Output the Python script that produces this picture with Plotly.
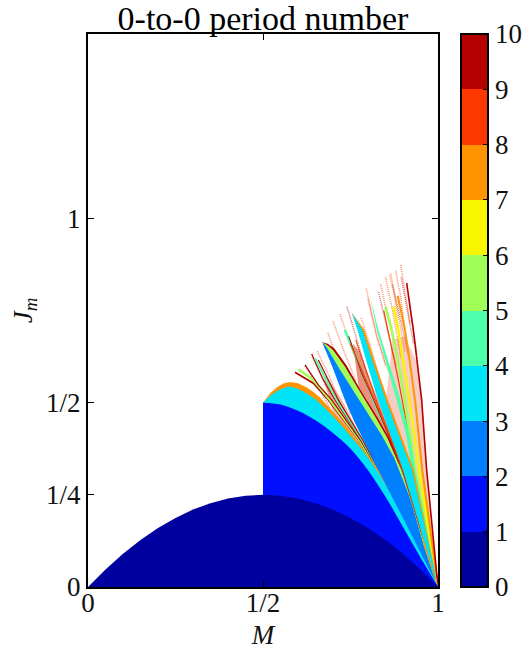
import plotly.graph_objects as go

FONT = "Liberation Serif"

# colour levels (0..9) of the discrete jet scale
level_colors = ["#00009f", "#0010ff", "#0080ff", "#00e4f8", "#4dffaa",
                "#a0ff56", "#f8f500", "#ff9400", "#ff3800", "#b40000"]
cbar_ticks = list(range(11))

x_tickvals = [0, 0.5, 1]
x_ticktext = ["0", "1/2", "1"]
y_tickvals = [0, 0.25, 0.5, 1]
y_ticktext = ["0", "1/4", "1/2", "1"]

# filled regions: M outline, J outline
orange_m = [0.5, 0.52, 0.539, 0.558, 0.577, 0.60, 0.625, 0.645, 0.665, 0.70, 0.735, 0.762, 0.79, 0.83, 0.873, 0.916, 0.958, 1]
orange_j = [0.5, 0.525, 0.541, 0.552, 0.556, 0.553, 0.541, 0.528, 0.512, 0.476, 0.438, 0.405, 0.37, 0.3175, 0.25, 0.182, 0.11, 0]

cyan_m = [0.5, 0.52, 0.539, 0.558, 0.577, 0.60, 0.625, 0.653, 0.691, 0.726, 0.754, 0.783, 0.825, 0.868, 0.911, 0.955, 1]
cyan_j = [0.5, 0.518, 0.531, 0.54, 0.5436, 0.538, 0.525, 0.5074, 0.472, 0.437, 0.405, 0.3727, 0.3175, 0.25, 0.182, 0.11, 0]

blue_rect_m = [0.5, 0.5, 0.6, 0.8, 1]
blue_rect_j = [0, 0.5, 0.47, 0.3, 0]
blue_m = [0.5, 0.55, 0.6, 0.65, 0.7, 0.75, 0.8, 0.85, 0.9, 0.95, 1]
blue_j = [0.5, 0.495, 0.478, 0.452, 0.418, 0.375, 0.317, 0.245, 0.163, 0.08, 0]

dark_m = [0, 0.05, 0.1, 0.15, 0.2, 0.25, 0.3, 0.35, 0.4, 0.45, 0.5, 0.55, 0.6, 0.65, 0.7, 0.75, 0.8, 0.85, 0.9, 0.95, 1]
dark_j = [0, 0.0475, 0.09, 0.1275, 0.16, 0.1875, 0.21, 0.2275, 0.24, 0.2475, 0.25, 0.2475, 0.24, 0.2275, 0.21, 0.1875, 0.16, 0.1275, 0.09, 0.0475, 0]

wedge_red_m = [0.6696, 0.685, 0.704, 0.738, 0.773, 0.797, 0.827, 0.86, 0.899, 0.938, 0.969, 1, 0.9, 0.8]
wedge_red_j = [0.664, 0.66, 0.647, 0.602, 0.5436, 0.5075, 0.46, 0.405, 0.3175, 0.2, 0.11, 0, 0.2, 0.42]
wedge_green_m = [0.6696, 0.685, 0.70, 0.734, 0.768, 0.792, 0.822, 0.855, 0.895, 0.935, 0.966, 1, 0.9, 0.8]
wedge_green_j = [0.664, 0.655, 0.643, 0.598, 0.5436, 0.5075, 0.46, 0.405, 0.3175, 0.2, 0.11, 0, 0.2, 0.42]
wedge_m = [0.6696, 0.697, 0.733, 0.76, 0.801, 0.829, 0.893, 0.941, 1, 0.96, 0.9265, 0.9, 0.875, 0.84, 0.806, 0.775, 0.755, 0.72, 0.681]
wedge_j = [0.664, 0.60, 0.51, 0.45, 0.372, 0.3175, 0.2, 0.11, 0, 0.11, 0.225, 0.29, 0.35, 0.41, 0.4613, 0.5075, 0.535, 0.589, 0.652]

cyan2_m = [0.7534, 0.77, 0.797, 0.8285, 0.862, 0.9, 0.937, 0.966, 1, 0.975, 0.953, 0.926, 0.886, 0.851, 0.815, 0.784]
cyan2_j = [0.7444, 0.697, 0.607, 0.5074, 0.418, 0.3175, 0.2, 0.11, 0, 0.11, 0.2, 0.3175, 0.418, 0.5074, 0.607, 0.697]

edge2_m = [0.7534, 0.79, 0.821, 0.857, 0.892, 0.931, 0.957, 0.977, 1, 0.96, 0.92, 0.88, 0.84, 0.80, 0.77]
edge2_j = [0.7444, 0.6974, 0.607, 0.5074, 0.418, 0.3175, 0.2, 0.11, 0, 0.11, 0.3175, 0.40, 0.5074, 0.607, 0.70]

wide_green_m = [0.8058, 0.825, 0.852, 0.882, 0.908, 0.925, 1, 0.935, 0.918, 0.893, 0.861, 0.83]
wide_green_j = [0.7879, 0.6974, 0.607, 0.5074, 0.418, 0.3175, 0, 0.3175, 0.418, 0.5074, 0.607, 0.6974]

# pale speckled haze between stripes
haze1_m = [0.757, 0.775, 0.8285, 0.862, 0.9, 1, 0.899, 0.822, 0.797, 0.773]
haze1_j = [0.66, 0.64, 0.5074, 0.418, 0.3175, 0, 0.3175, 0.46, 0.5075, 0.5436]
haze2_m = [0.87, 0.905, 0.9409, 0.9533, 0.9676, 1, 0.93, 0.891, 0.8514]
haze2_j = [0.67, 0.68, 0.607, 0.5074, 0.3175, 0, 0.3175, 0.418, 0.5074]
haze3_m = [0.67, 0.69, 0.73, 0.80, 1, 0.79, 0.74, 0.70]
haze3_j = [0.58, 0.56, 0.50, 0.37, 0, 0.36, 0.42, 0.475]

# thin stripes left of the blue wedge: level, line width, M and J along the stripe
left_levels = [9, 5, 9, 9, 4, 9]
left_widths = [1.6, 2.6, 1.2, 1.2, 2.0, 1.2]
left_m = [
    [0.5914, 0.6438, 0.6867, 0.772, 0.826, 0.885, 0.935, 1],
    [0.6009, 0.6438, 0.6914, 0.775, 0.827, 0.886, 0.936, 1],
    [0.62, 0.6581, 0.6962, 0.777, 0.828, 0.886, 0.936, 1],
    [0.639, 0.6723, 0.7057, 0.78, 0.829, 0.887, 0.937, 1],
    [0.6486, 0.6819, 0.7105, 0.782, 0.83, 0.887, 0.937, 1],
    [0.6581, 0.6867, 0.7152, 0.784, 0.831, 0.888, 0.938, 1],
]
left_j = [
    [0.5825, 0.5527, 0.5074, 0.40, 0.3175, 0.2, 0.11, 0],
    [0.5907, 0.5617, 0.5074, 0.40, 0.3175, 0.2, 0.11, 0],
    [0.6024, 0.5481, 0.5074, 0.40, 0.3175, 0.2, 0.11, 0],
    [0.6323, 0.5617, 0.5074, 0.40, 0.3175, 0.2, 0.11, 0],
    [0.6205, 0.5617, 0.5074, 0.40, 0.3175, 0.2, 0.11, 0],
    [0.616, 0.5617, 0.5074, 0.40, 0.3175, 0.2, 0.11, 0],
]

# stripes right of the blue wedge
right_levels = [4, 9, 8, 8, 8, 5, 6, 7, 9]
right_widths = [2.4, 1.0, 1.2, 1.0, 1.2, 2.6, 2.4, 2.0, 1.6]
right_m = [
    [0.734, 0.80, 0.832, 0.864, 0.899, 1],
    [0.745, 0.782, 0.815, 0.855, 0.898, 1],
    [0.75, 0.79, 0.822, 0.858, 0.90, 1],
    [0.765, 0.797, 0.826, 0.86, 0.90, 1],
    [0.845, 0.868, 0.885, 0.905, 0.93, 1],
    [0.85, 0.8676, 0.8867, 0.9057, 0.935, 1],
    [0.872, 0.8867, 0.9009, 0.9181, 0.946, 1],
    [0.885, 0.9057, 0.92, 0.9343, 0.955, 1],
    [0.9105, 0.9295, 0.9409, 0.9533, 0.9676, 1],
]
right_j = [
    [0.697, 0.5427, 0.47, 0.41, 0.3175, 0],
    [0.68, 0.58, 0.51, 0.42, 0.3175, 0],
    [0.66, 0.57, 0.50, 0.42, 0.3175, 0],
    [0.67, 0.58, 0.50, 0.42, 0.3175, 0],
    [0.75, 0.65, 0.57, 0.47, 0.3175, 0],
    [0.76, 0.6974, 0.607, 0.5074, 0.3175, 0],
    [0.761, 0.6974, 0.607, 0.5074, 0.3175, 0],
    [0.79, 0.6974, 0.607, 0.5074, 0.3175, 0],
    [0.824, 0.6974, 0.607, 0.5074, 0.3175, 0],
]

# faint speckled tips of the fan, colour level per tip
tip_levels = [9, 8, 8, 9, 8, 8, 8, 9, 8, 8, 8, 8, 9, 8, 7, 8, 8, 8, 9, 8, 9]
tip_m = [
    [0.62, 0.66, 0.70],
    [0.64, 0.675, 0.71],
    [0.655, 0.69, 0.725],
    [0.672, 0.71, 0.75],
    [0.685, 0.72, 0.76],
    [0.70, 0.735, 0.765],
    [0.72, 0.76, 0.79],
    [0.74, 0.775, 0.80],
    [0.78, 0.805, 0.835],
    [0.80, 0.825, 0.85],
    [0.795, 0.825, 0.86],
    [0.8362, 0.85, 0.8676],
    [0.83, 0.855, 0.88],
    [0.85, 0.87, 0.895],
    [0.861, 0.875, 0.8867],
    [0.865, 0.885, 0.905],
    [0.879, 0.893, 0.9057],
    [0.8934, 0.905, 0.92],
    [0.895, 0.915, 0.93],
    [0.915, 0.925, 0.94],
    [0.87, 0.89, 0.915],
]
tip_j = [
    [0.60, 0.54, 0.47],
    [0.625, 0.555, 0.48],
    [0.64, 0.57, 0.49],
    [0.66, 0.58, 0.47],
    [0.69, 0.60, 0.49],
    [0.72, 0.63, 0.56],
    [0.74, 0.63, 0.56],
    [0.76, 0.65, 0.57],
    [0.73, 0.66, 0.56],
    [0.78, 0.68, 0.60],
    [0.81, 0.68, 0.58],
    [0.8213, 0.76, 0.6974],
    [0.80, 0.70, 0.60],
    [0.84, 0.75, 0.62],
    [0.8467, 0.79, 0.6974],
    [0.85, 0.74, 0.64],
    [0.8584, 0.79, 0.6974],
    [0.8738, 0.80, 0.7155],
    [0.84, 0.74, 0.66],
    [0.79, 0.73, 0.63],
    [0.82, 0.74, 0.63],
]

fig = go.Figure()


def region(m, j, color, shape="linear", opacity=1.0):
    fig.add_trace(go.Scatter(x=m, y=j, mode="lines", fill="toself",
                             fillcolor=color, opacity=opacity,
                             line=dict(width=0, shape=shape), hoverinfo="skip"))


def stripes(ms, js, levels, widths):
    for m, j, lev, w in zip(ms, js, levels, widths):
        fig.add_trace(go.Scatter(x=m, y=j, mode="lines", hoverinfo="skip",
                                 line=dict(color=level_colors[lev], width=w)))


region(haze3_m, haze3_j, "#d9624a", opacity=0.45)
region(haze1_m, haze1_j, "#d9482a", opacity=0.6)
region(haze2_m, haze2_j, "#e8806a", opacity=0.4)
for m, j, lev in zip(tip_m, tip_j, tip_levels):
    fig.add_trace(go.Scatter(x=m, y=j, mode="lines", opacity=0.55, hoverinfo="skip",
                             line=dict(color=level_colors[lev], width=1.5, dash="1px,1px")))
stripes(left_m, left_j, left_levels, left_widths)
region(orange_m, orange_j, level_colors[7])
region(cyan_m, cyan_j, level_colors[3])
region(wedge_red_m, wedge_red_j, level_colors[9])
region(wedge_green_m, wedge_green_j, level_colors[5])
region(wedge_m, wedge_j, level_colors[2])
stripes(right_m, right_j, right_levels, right_widths)
region(wide_green_m, wide_green_j, level_colors[4])
region(edge2_m, edge2_j, level_colors[7])
region(cyan2_m, cyan2_j, level_colors[3])
region(blue_rect_m, blue_rect_j, level_colors[1])
region(blue_m, blue_j, level_colors[1], shape="spline")
region(dark_m, dark_j, level_colors[0])

# colour bar
n = len(level_colors)
scale = []
for i, c in enumerate(level_colors):
    scale += [[i / n, c], [(i + 1) / n, c]]
fig.add_trace(go.Scatter(
    x=[0.5], y=[-1], mode="markers", hoverinfo="skip",
    marker=dict(color=[0], cmin=0, cmax=10, colorscale=scale, showscale=True,
                colorbar=dict(x=461 / 530, xref="container", xanchor="left", thickness=27,
                              y=0.5, yanchor="middle", lenmode="fraction", len=1,
                              tickmode="array", tickvals=cbar_ticks,
                              ticktext=[str(t) for t in cbar_ticks],
                              ticks="inside", ticklen=6, tickcolor="black", tickwidth=1,
                              outlinecolor="black", outlinewidth=2,
                              tickfont=dict(family=FONT, size=27, color="#111"),
                              ypad=0, xpad=0))))

axis_common = dict(showline=True, linecolor="black", linewidth=2, mirror="ticks",
                   ticks="inside", ticklen=6, tickcolor="black", tickwidth=1,
                   showgrid=False, zeroline=False, automargin=False,
                   tickfont=dict(family=FONT, size=27, color="#111"))
fig.update_layout(
    width=530, height=654, showlegend=False, autosize=False,
    margin=dict(l=88, r=92, t=34, b=67, pad=0),
    paper_bgcolor="white", plot_bgcolor="white",
    title=dict(text="0-to-0 period number", x=263 / 530, xanchor="center", y=0.972, yanchor="middle",
               font=dict(family=FONT, size=34, color="black")),
    xaxis=dict(range=[0, 1], tickmode="array", tickvals=x_tickvals, ticktext=x_ticktext,
               ticklabelstandoff=-9,
               title=dict(text="<i>M</i>", font=dict(family=FONT, size=27, color="#111"), standoff=8),
               **axis_common),
    yaxis=dict(range=[0, 1.5], tickmode="array", tickvals=y_tickvals, ticktext=y_ticktext,
               title=dict(text="<i>J<sub>m</sub></i>", font=dict(family=FONT, size=27, color="#111"), standoff=6),
               **axis_common),
)
fig.write_html("out.html", post_script="document.body.style.margin='0';",
               config={"displayModeBar": False})
